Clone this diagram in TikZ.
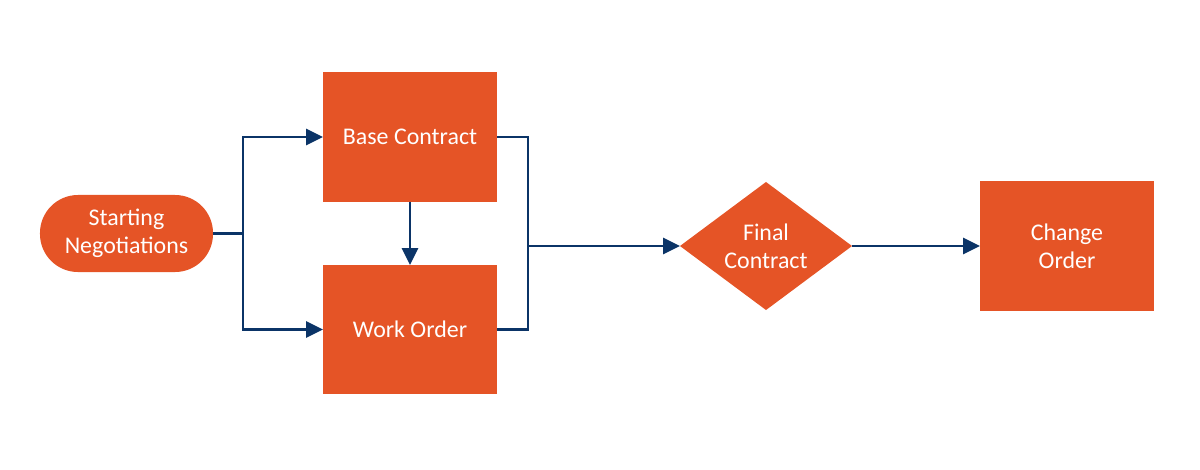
\documentclass[tikz,border=0pt]{standalone}
\usepackage{fontspec}
\setmainfont{Carlito}
\usetikzlibrary{shapes.geometric,arrows.meta}
\definecolor{boxorange}{HTML}{E55426}
\definecolor{linenavy}{HTML}{0B3467}
\begin{document}
\begin{tikzpicture}[x=0.025cm,y=-0.025cm,
  every node/.style={text=white,font=\fontsize{17pt}{20pt}\selectfont,align=center,inner sep=0pt,outer sep=0pt},
  procbox/.style={fill=boxorange,minimum width=4.35cm,minimum height=3.225cm},
  termbox/.style={fill=boxorange,rounded corners=0.95cm,minimum width=4.325cm,minimum height=1.925cm},
  decbox/.style={fill=boxorange,diamond,aspect=1.34,minimum width=4.3cm,minimum height=3.2cm},
  conn/.style={draw=linenavy,line width=1.5pt},
  arr/.style={conn,-{Triangle[length=12pt,width=11.5pt]}}]
\useasboundingbox (0,0) rectangle (1200,469);
\node[termbox] (start) at (126.5,233.5) {Starting\\Negotiations};
\node[procbox] (base) at (410,137) {Base Contract};
\node[procbox] (work) at (410,329.5) {Work Order};
\node[decbox] (final) at (766,246) {Final\\Contract};
\node[procbox] (change) at (1067,246) {Change\\Order};
\coordinate (lj) at (243,233.5);
\coordinate (rj) at (528,246);
\draw[conn] (start.east) -- (lj);
\draw[arr] (lj) |- (base.west);
\draw[arr] (lj) |- (work.west);
\draw[arr] (base.south) -- (work.north);
\draw[conn] (base.east) -| (rj) |- (work.east);
\draw[arr] (rj) -- (final.west);
\draw[arr] (final.east) -- (change.west);
\end{tikzpicture}
\end{document}
